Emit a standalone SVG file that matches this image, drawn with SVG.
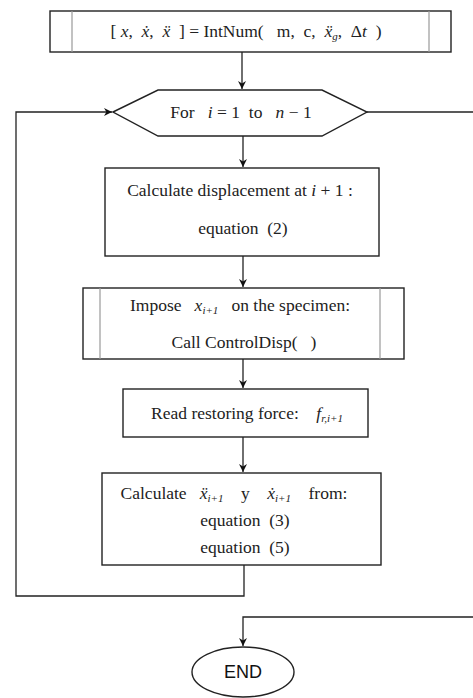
<svg xmlns="http://www.w3.org/2000/svg" width="473" height="698" viewBox="0 0 473 698" xml:space="preserve">
<defs>
<marker id="ah" viewBox="0 0 10 10" refX="10" refY="5" markerWidth="8" markerHeight="8" markerUnits="userSpaceOnUse" orient="auto">
<path d="M0,0 L10,5 L0,10 L3,5 Z" fill="#111"/>
</marker>
</defs>
<style>
.box{fill:#fff;stroke:#222;stroke-width:1.4}
.inner{stroke:#999;stroke-width:1.2}
.c{fill:none;stroke:#222;stroke-width:1.3}
.t{font-family:"Liberation Serif","Times New Roman",serif;font-size:17.5px;fill:#222;text-anchor:middle;white-space:pre}
.m{font-style:italic}
.s{font-size:11px;font-style:italic}
.sans{font-family:"Liberation Sans",Arial,sans-serif;font-size:18px;fill:#111;text-anchor:middle}
</style>
<g id="connectors">
<line class="c" x1="242" y1="52" x2="242" y2="89" marker-end="url(#ah)"/>
<line class="c" x1="243" y1="136" x2="243" y2="167" marker-end="url(#ah)"/>
<line class="c" x1="243" y1="256" x2="243" y2="287" marker-end="url(#ah)"/>
<line class="c" x1="243" y1="359" x2="243" y2="388" marker-end="url(#ah)"/>
<line class="c" x1="243" y1="437" x2="243" y2="472" marker-end="url(#ah)"/>
<polyline class="c" points="244,565 244,596 16,596 16,112 112,112" marker-end="url(#ah)"/>
<line class="c" x1="367" y1="112" x2="473" y2="112"/>
<polyline class="c" points="473,617 243,617 243,646" marker-end="url(#ah)"/>
</g>
<g id="start">
<rect class="box" x="50" y="11" width="401" height="41"/>
<line class="inner" x1="72" y1="11" x2="72" y2="52"/>
<line class="inner" x1="429" y1="11" x2="429" y2="52"/>
<text class="t" x="246" y="37">[ <tspan class="m">x</tspan>,  <tspan class="m">ẋ</tspan>,  <tspan class="m">ẍ</tspan>  ] = IntNum(   m,  c,  <tspan class="m">ẍ</tspan><tspan class="s" dy="3">g</tspan><tspan dy="-3">,  Δ</tspan><tspan class="m">t</tspan>  )</text>
</g>
<g id="loop">
<polygon class="box" points="113,112 158,90 322,90 367,112 322,136 158,136"/>
<text class="t" x="241" y="118">For   <tspan class="m">i</tspan> = 1  to   <tspan class="m">n</tspan> − 1</text>
</g>
<g id="calc-disp">
<rect class="box" x="105" y="168" width="274" height="88"/>
<text class="t" x="240" y="196">Calculate displacement at <tspan class="m">i</tspan> + 1 :</text>
<text class="t" x="243" y="234">equation  (2)</text>
</g>
<g id="impose">
<rect class="box" x="83" y="288" width="321" height="71"/>
<line class="inner" x1="100" y1="288" x2="100" y2="359"/>
<line class="inner" x1="380" y1="288" x2="380" y2="359"/>
<text class="t" x="240" y="311">Impose   <tspan class="m">x</tspan><tspan class="s" dy="3">i+1</tspan><tspan dy="-3">   on the specimen:</tspan></text>
<text class="t" x="244" y="348">Call ControlDisp(   )</text>
</g>
<g id="read">
<rect class="box" x="123" y="389" width="245" height="48"/>
<text class="t" x="247" y="419">Read restoring force:    <tspan class="m">f</tspan><tspan class="s" dy="3">r,i+1</tspan></text>
</g>
<g id="calc-acc">
<rect class="box" x="102" y="473" width="279" height="92"/>
<text class="t" x="234" y="499">Calculate   <tspan class="m">ẍ</tspan><tspan class="s" dy="3">i+1</tspan><tspan dy="-3">    y    </tspan><tspan class="m">ẋ</tspan><tspan class="s" dy="3">i+1</tspan><tspan dy="-3">    from:</tspan></text>
<text class="t" x="245" y="526">equation  (3)</text>
<text class="t" x="245" y="553">equation  (5)</text>
</g>
<g id="end">
<ellipse class="box" cx="243" cy="672" rx="51" ry="25"/>
<text class="sans" x="243" y="678">END</text>
</g>
</svg>
